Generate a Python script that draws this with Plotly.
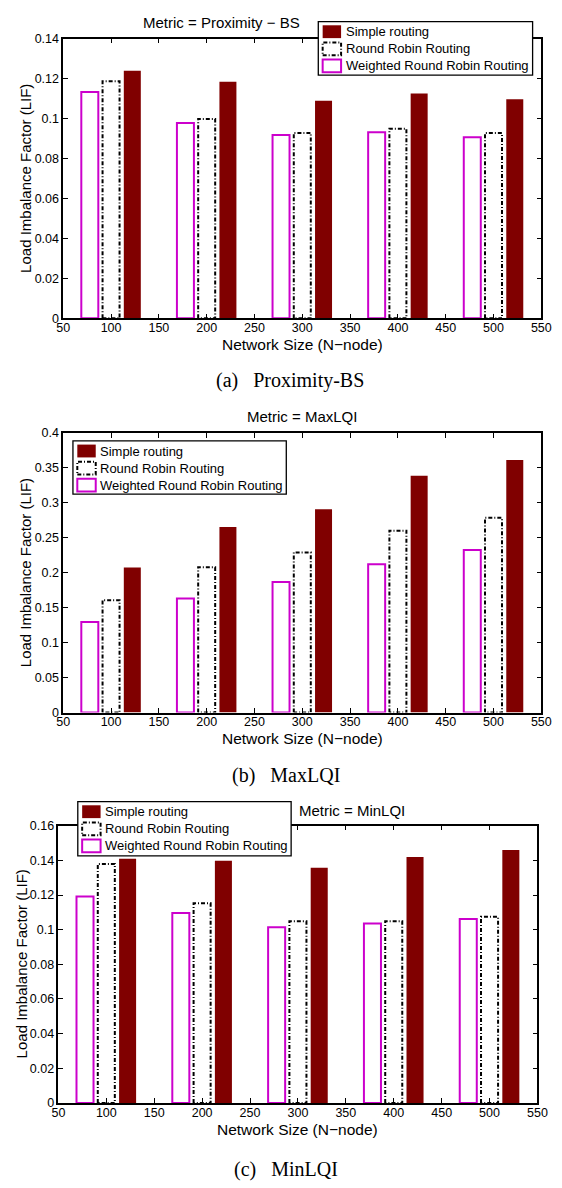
import plotly.graph_objects as go

# ---------------------------------------------------------------- data
network_size = [100, 200, 300, 400, 500]
x_ticks = [50, 100, 150, 200, 250, 300, 350, 400, 450, 500, 550]
x_tick_labels = ["50", "100", "150", "200", "250", "300", "350", "400", "450", "500", "550"]

# Metric = Proximity - BS
simple_bs = [0.1239, 0.1184, 0.1089, 0.1125, 0.1096]
rr_bs = [0.1186, 0.0998, 0.0928, 0.0949, 0.0927]
wrr_bs = [0.1133, 0.0978, 0.0917, 0.0931, 0.0906]
y_ticks_bs = [0, 0.02, 0.04, 0.06, 0.08, 0.10, 0.12, 0.14]
y_labels_bs = ["0", "0.02", "0.04", "0.06", "0.08", "0.1", "0.12", "0.14"]

# Metric = MaxLQI
simple_max = [0.2074, 0.2653, 0.2908, 0.3388, 0.3614]
rr_max = [0.1608, 0.2079, 0.2291, 0.2602, 0.2785]
wrr_max = [0.1297, 0.1632, 0.1868, 0.2121, 0.2324]
y_ticks_max = [0, 0.05, 0.10, 0.15, 0.20, 0.25, 0.30, 0.35, 0.40]
y_labels_max = ["0", "0.05", "0.1", "0.15", "0.2", "0.25", "0.3", "0.35", "0.4"]

# Metric = MinLQI
simple_min = [0.1409, 0.1398, 0.1358, 0.1420, 0.1460]
rr_min = [0.1379, 0.1152, 0.1048, 0.1048, 0.1074]
wrr_min = [0.1191, 0.1097, 0.1014, 0.1035, 0.1061]
y_ticks_min = [0, 0.02, 0.04, 0.06, 0.08, 0.10, 0.12, 0.14, 0.16]
y_labels_min = ["0", "0.02", "0.04", "0.06", "0.08", "0.1", "0.12", "0.14", "0.16"]

series_names = ["Simple routing", "Round Robin Routing", "Weighted Round Robin Routing"]

# ---------------------------------------------------------------- style
W, H = 562, 1188
SANS = "Liberation Sans, Arial, Helvetica, sans-serif"
SERIF = "Liberation Serif, Times New Roman, serif"
DARK_RED = "#800000"
MAGENTA = "#CC00CC"
DASHDOT = "4px,2px,1px,2px"

SLOT = 100 * (2 / 3) / 3          # grouped bar slot width (x units)
BAR_W = SLOT * 0.8                # drawn bar width

# plot areas in pixels: (left, right, top, bottom)
panels = [
    dict(box=(58, 551, 32, 315), simple=simple_bs, rr=rr_bs, wrr=wrr_bs,
         yt=y_ticks_bs, yl=y_labels_bs, title="Metric = Proximity \u2212 BS", title_xy=(221, 16),
         legend=(321, 542, 14.7, 69), caption="(a)\u00a0\u00a0\u00a0Proximity-BS", cap_xy=(292, 378),
         ytitle_x=19),
    dict(box=(58, 551, 431, 714), simple=simple_max, rr=rr_max, wrr=wrr_max,
         yt=y_ticks_max, yl=y_labels_max, title="Metric = MaxLQI", title_xy=(304.5, 414),
         legend=(68, 288, 439, 493), caption="(b)\u00a0\u00a0\u00a0MaxLQI", cap_xy=(288, 778),
         ytitle_x=19),
    dict(box=(53, 547, 828.5, 1109), simple=simple_min, rr=rr_min, wrr=wrr_min,
         yt=y_ticks_min, yl=y_labels_min, title="Metric = MinLQI", title_xy=(356, 812.7),
         legend=(73, 293, 804, 859), caption="(c)\u00a0\u00a0\u00a0MinLQI", cap_xy=(288, 1176),
         ytitle_x=14.5),
]


def px(x):
    return x / W


def py(y):
    return 1 - y / H


fig = go.Figure()
shapes = []
annotations = []

for i, p in enumerate(panels):
    n = "" if i == 0 else str(i + 1)
    xa, ya = "x" + n, "y" + n
    left, right, top, bottom = p["box"]

    # bars: WRR (left), RR (middle), Simple (right)
    specs = [
        (p["wrr"], -1, dict(color="white", line=dict(color=MAGENTA, width=2))),
        (p["rr"], 0, dict(color="white", line=dict(width=0))),
        (p["simple"], 1, dict(color=DARK_RED, line=dict(width=0))),
    ]
    for vals, k, marker in specs:
        fig.add_trace(go.Bar(
            x=network_size, y=vals, width=BAR_W, offset=k * SLOT - BAR_W / 2,
            marker=marker, xaxis=xa, yaxis=ya, showlegend=False,
        ))

    # dash-dot outline of the round robin bars
    ox, oy = [], []
    for xv, v in zip(network_size, p["rr"]):
        x0, x1 = xv - BAR_W / 2, xv + BAR_W / 2
        ox += [x0, x0, x1, x1, x0, None]
        oy += [0, v, v, 0, 0, None]
    fig.add_trace(go.Scatter(
        x=ox, y=oy, mode="lines", line=dict(color="black", width=2, dash=DASHDOT),
        xaxis=xa, yaxis=ya, showlegend=False, hoverinfo="skip", cliponaxis=False,
    ))

    axis_common = dict(
        showline=True, linecolor="black", linewidth=1.5, mirror="ticks",
        ticks="inside", ticklen=5, tickwidth=1, tickcolor="black",
        showgrid=False, zeroline=False, tickfont=dict(family=SANS, size=12.5, color="black"),
    )
    fig.layout["xaxis" + n] = dict(
        domain=[px(left), px(right)], range=[50, 550], anchor=ya,
        tickmode="array", tickvals=x_ticks, ticktext=x_tick_labels,
        ticklabelstandoff=-3, **axis_common,
    )
    fig.layout["yaxis" + n] = dict(
        domain=[py(bottom), py(top)], range=[0, p["yt"][-1]], anchor=xa,
        tickmode="array", tickvals=p["yt"], ticktext=p["yl"], **axis_common,
    )

    # titles
    tx, ty = p["title_xy"]
    annotations.append(dict(x=px(tx), y=py(ty), xref="paper", yref="paper", text=p["title"],
                            showarrow=False, xanchor="center", yanchor="middle",
                            font=dict(family=SANS, size=15, color="black")))
    annotations.append(dict(x=px((left + right) / 2), y=py(bottom + 26.5), xref="paper", yref="paper",
                            text="Network Size (N\u2212node)", showarrow=False,
                            xanchor="center", yanchor="middle",
                            font=dict(family=SANS, size=15.5, color="black")))
    annotations.append(dict(x=px(p["ytitle_x"]), y=py((top + bottom) / 2), xref="paper", yref="paper",
                            text="Load Imbalance Factor (LIF)", showarrow=False, textangle=-90,
                            xanchor="center", yanchor="middle",
                            font=dict(family=SANS, size=15, color="black")))
    cx, cy = p["cap_xy"]
    annotations.append(dict(x=px(cx), y=py(cy), xref="paper", yref="paper", text=p["caption"],
                            showarrow=False, xanchor="center", yanchor="middle",
                            font=dict(family=SERIF, size=20, color="black")))

    # legend box
    l0, l1, t0, t1 = p["legend"]
    shapes.append(dict(type="rect", xref="paper", yref="paper", x0=px(l0), x1=px(l1),
                       y0=py(t1), y1=py(t0), fillcolor="white",
                       line=dict(color="black", width=1.3), layer="above"))
    samples = [
        dict(fillcolor=DARK_RED, line=dict(width=0)),
        dict(fillcolor="white", line=dict(color="black", width=2, dash=DASHDOT)),
        dict(fillcolor="white", line=dict(color=MAGENTA, width=2)),
    ]
    for r, (name, smp) in enumerate(zip(series_names, samples)):
        rc = t0 + 10.3 + r * 17.3
        shapes.append(dict(type="rect", xref="paper", yref="paper",
                           x0=px(l0 + 4.5), x1=px(l0 + 23.5), y0=py(rc + 6.5), y1=py(rc - 6.5),
                           layer="above", **smp))
        annotations.append(dict(x=px(l0 + 26), y=py(rc), xref="paper", yref="paper", text=name,
                                showarrow=False, xanchor="left", yanchor="middle",
                                font=dict(family=SANS, size=13, color="black")))

fig.update_layout(
    width=W, height=H, margin=dict(l=0, r=0, t=0, b=0),
    paper_bgcolor="white", plot_bgcolor="white",
    shapes=shapes, annotations=annotations, showlegend=False,
)

fig.write_html("out.html")
